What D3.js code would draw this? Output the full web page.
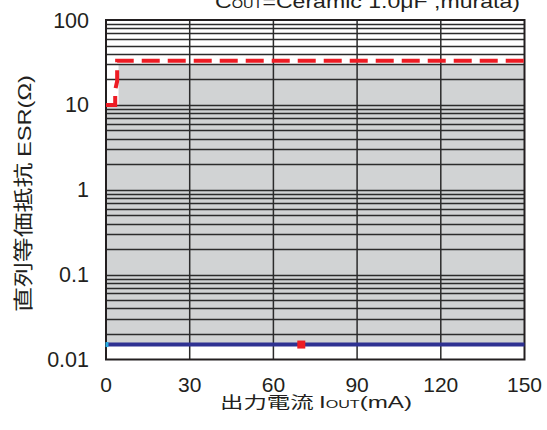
<!DOCTYPE html>
<html><head><meta charset="utf-8">
<script src="https://cdn.jsdelivr.net/npm/d3@7"></script>
<style>
html,body{margin:0;padding:0;background:#fff;}
svg{display:block;}
text{font-family:"Liberation Sans",Arial,sans-serif;fill:#231f20;}
</style></head>
<body>
<script>
// ---- data ----
const xTicks = [0, 30, 60, 90, 120, 150];
const yTicks = [0.01, 0.1, 1, 10, 100];
const yTickLabels = ["0.01", "0.1", "1", "10", "100"];
// stable ESR region (gray) upper boundary, lower bound = blue line value
const regionTop = [[0, 10], [4.5, 10], [4.5, 30], [150, 30]];
const regionBottom = 0.015;
// red dashed: upper ESR limit
const upperLimit = [[0, 10], [3.3, 10], [3.3, 15], [4, 19], [4, 33], [150, 33]];
// blue line: lower ESR limit
const lowerLimit = [[0, 0.015], [150, 0.015]];
const redMarker = [[70, 0.015]];
const cyanMarker = [[0, 0.015]];

const W = 547, H = 430;
const L = 106, R = 524.5, T = 20, B = 359.5;

const svg = d3.select("body").append("svg").attr("width", W).attr("height", H);
const x = d3.scaleLinear().domain([0, 150]).range([L, R]);
const y = d3.scaleLog().domain([0.01, 100]).range([B, T]);

// gray region
const area = [...regionTop, [150, regionBottom], [0, regionBottom]];
svg.append("path")
  .attr("d", d3.line().x(d => x(d[0])).y(d => y(d[1]))(area) + "Z")
  .attr("fill", "#d1d3d4");

// minor/major horizontal grid
const hLines = [];
for (let e = -2; e < 2; e++) for (let m = 1; m <= 9; m++) hLines.push(m * Math.pow(10, e));
svg.append("g").selectAll("line").data(hLines.filter(v => v > 0.01)).join("line")
  .attr("x1", L).attr("x2", R)
  .attr("y1", d => Math.round(y(d)) + 0.5).attr("y2", d => Math.round(y(d)) + 0.5)
  .attr("stroke", "#2b2b2b").attr("stroke-width", 1.3);
// vertical grid
svg.append("g").selectAll("line").data(xTicks.slice(1, -1)).join("line")
  .attr("x1", d => x(d)).attr("x2", d => x(d))
  .attr("y1", T).attr("y2", B)
  .attr("stroke", "#2b2b2b").attr("stroke-width", 1.5);

// frame
svg.append("rect").attr("x", L).attr("y", T).attr("width", R - L).attr("height", B - T)
  .attr("fill", "none").attr("stroke", "#231f20").attr("stroke-width", 2);

const line = d3.line().x(d => x(d[0])).y(d => y(d[1]));
// blue lower limit
svg.append("path").attr("d", line(lowerLimit))
  .attr("fill", "none").attr("stroke", "#2e3192").attr("stroke-width", 4);
// red dashed upper limit
svg.append("path").attr("d", line(upperLimit))
  .attr("fill", "none").attr("stroke", "#ed1c24").attr("stroke-width", 4)
  .attr("stroke-dasharray", "18,8");
// markers
svg.selectAll(".rm").data(redMarker).join("rect")
  .attr("x", d => x(d[0]) - 4).attr("y", d => y(d[1]) - 4)
  .attr("width", 8).attr("height", 8).attr("fill", "#ed1c24");
svg.selectAll(".cm").data(cyanMarker).join("rect")
  .attr("x", d => x(d[0]) - 0.5).attr("y", d => y(d[1]) - 2.5)
  .attr("width", 3).attr("height", 5).attr("fill", "#27aae1");

// y tick labels
svg.append("g").selectAll("text").data(yTicks).join("text")
  .attr("x", 89).attr("y", d => y(d) + 7.5)
  .attr("text-anchor", "end").attr("font-size", 21.5)
  .text((d, i) => yTickLabels[i]);
// x tick labels
svg.append("g").selectAll("text").data(xTicks).join("text")
  .attr("x", d => x(d)).attr("y", 392)
  .attr("text-anchor", "middle").attr("font-size", 21)
  .text(d => d);

// x axis title
const xt = svg.append("text").attr("x", 220).attr("y", 408)
  .attr("font-size", 16.5).attr("textLength", 192).attr("lengthAdjust", "spacingAndGlyphs");
xt.append("tspan").style("font-family", "'Noto Sans CJK JP',sans-serif").attr("font-size", 16).text("出力電流 ");
xt.append("tspan").text("I");
xt.append("tspan").attr("font-size", 11).text("OUT");
xt.append("tspan").text("(mA)");

// y axis title
const yt = svg.append("text").attr("transform", `translate(31,312) rotate(-90)`)
  .attr("font-size", 19).attr("textLength", 237).attr("lengthAdjust", "spacingAndGlyphs");
yt.append("tspan").style("font-family", "'Noto Sans CJK JP',sans-serif").attr("font-size", 20).text("直列等価抵抗 ");
yt.append("tspan").text("ESR(Ω)");

// condition label (partially clipped at top, as in the reference)
const ct = svg.append("text").attr("x", 215).attr("y", 7.5)
  .attr("font-size", 19).attr("textLength", 305).attr("lengthAdjust", "spacingAndGlyphs");
ct.append("tspan").text("C");
ct.append("tspan").attr("font-size", 12).text("OUT");
ct.append("tspan").text("=Ceramic 1.0μF ,murata)");
</script>
</body></html>
